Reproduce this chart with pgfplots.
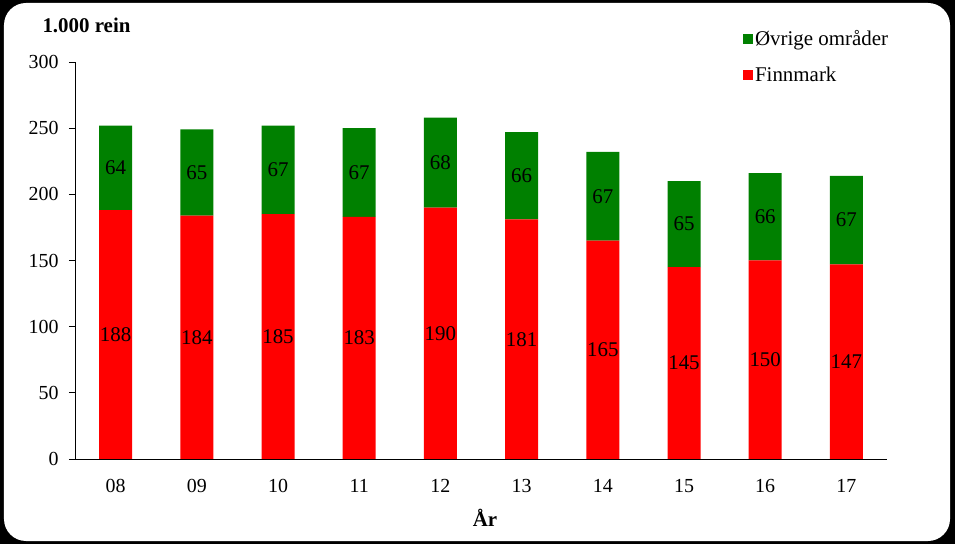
\documentclass[border=0pt]{standalone}
\usepackage{pgfplots}
\pgfplotsset{compat=1.18}
\usepackage{fontspec}
\setmainfont{Liberation Serif}
\definecolor{gr}{RGB}{0,128,0}
\definecolor{rd}{RGB}{255,0,0}
\begin{document}
\begin{tikzpicture}
\fill[black] (-75bp,-85bp) rectangle (880bp,459bp);
\fill[white, rounded corners=22bp] (-71bp,-82bp) rectangle (875bp,456bp);
\begin{axis}[
  at={(0,0)}, anchor=south west,
  scale only axis, width=812bp, height=397bp,
  ybar stacked, bar width=33bp,
  xmin=-0.5, xmax=9.5, ymin=0, ymax=300,
  axis x line*=bottom, axis y line*=left,
  axis line style={black, line width=0.8pt},
  xtick={0,...,9},
  xticklabels={08,09,10,11,12,13,14,15,16,17},
  major x tick style={draw=none},
  extra x ticks={-0.5,0.5,...,9.5},
  extra x tick labels={},
  extra x tick style={tick style={black, line width=0.8pt}, major tick length=6bp, tick align=outside},
  ytick={0,50,...,300},
  ytick style={black, line width=0.8pt},
  major tick length=6bp, tick align=outside,
  tick label style={font=\fontsize{20}{22}\selectfont},
  x tick label style={yshift=-11bp},
  y tick label style={xshift=-7bp},
  /pgf/number format/assume math mode=true,
  /pgf/number format/1000 sep={},
  nodes near coords,
  every node near coord/.append style={anchor=center, font=\fontsize{21}{22}\selectfont},
  reverse legend,
  legend style={at={(axis description cs:0.8225,1.085)}, anchor=north west, draw=none, fill=none,
    font=\fontsize{21}{22}\selectfont, row sep=16bp, inner sep=0pt},
  legend cell align=left,
  legend image code/.code={\fill[#1] (0bp,-5bp) rectangle (10bp,5bp);},
]
\addplot[fill=rd, draw=none] coordinates {(0,188) (1,184) (2,185) (3,183) (4,190) (5,181) (6,165) (7,145) (8,150) (9,147)};
\addlegendentry{Finnmark}
\addplot[fill=gr, draw=none] coordinates {(0,64) (1,65) (2,67) (3,67) (4,68) (5,66) (6,67) (7,65) (8,66) (9,67)};
\addlegendentry{Øvrige områder}
\end{axis}
\node[font=\bfseries\fontsize{21}{22}\selectfont] at (11.5bp,434bp) {1.000 rein};
\node[font=\bfseries\fontsize{21}{22}\selectfont] at (410bp,-59bp) {År};
\end{tikzpicture}
\end{document}
